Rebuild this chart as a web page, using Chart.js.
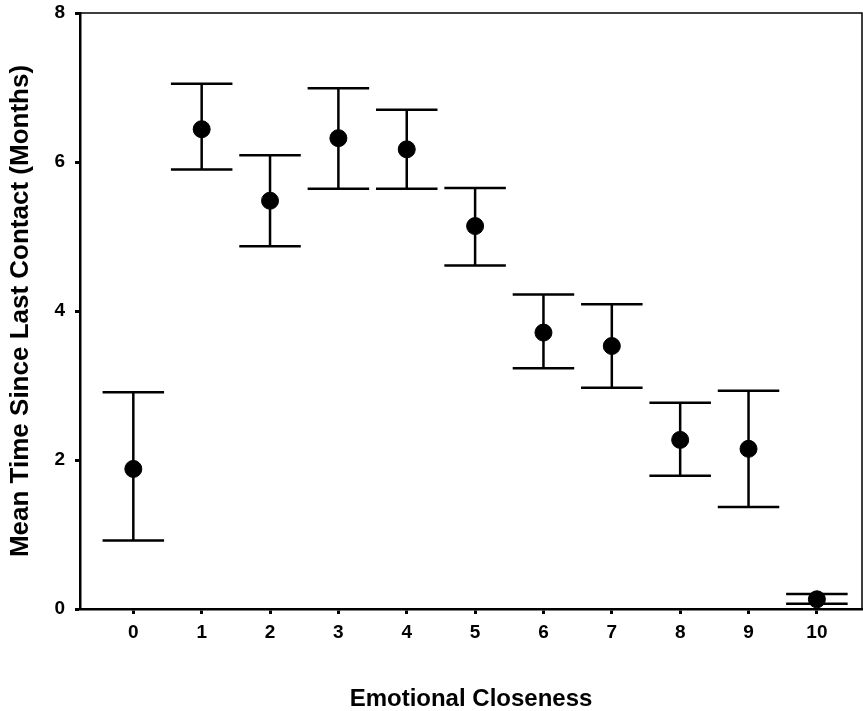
<!DOCTYPE html>
<html>
<head>
<meta charset="utf-8">
<script src="https://cdn.jsdelivr.net/npm/chart.js@4.4.1/dist/chart.umd.min.js"></script>
<style>
    html, body { margin: 0; background: #fff; overflow: hidden; }
    canvas { display: block; }
</style>
</head>
<body>
<canvas id="ClosenessChart" width="863" height="711"></canvas>
<script>
// values
const categories = [0, 1, 2, 3, 4, 5, 6, 7, 8, 9, 10];
const means = [1.88, 6.44, 5.48, 6.32, 6.17, 5.14, 3.71, 3.53, 2.27, 2.15, 0.13];
const upper = [2.91, 7.05, 6.09, 6.99, 6.70, 5.65, 4.22, 4.09, 2.77, 2.93, 0.20];
const lower = [0.92, 5.90, 4.87, 5.64, 5.64, 4.61, 3.23, 2.97, 1.79, 1.37, 0.07];
const yTicks = [0, 2, 4, 6, 8];

const FONT = 'Liberation Sans, Arial, sans-serif';
const CAP = 0.45; // half width of the error bar caps, in x units

const errorBars = {
    id: 'errorBars',
    beforeDatasetsDraw(chart) {
        const c = chart.ctx;
        const x = chart.scales.x;
        const y = chart.scales.y;
        const area = chart.chartArea;
        c.save();
        c.strokeStyle = '#000';

        // top and right frame
        c.lineWidth = 1.5;
        c.beginPath();
        c.moveTo(area.left, area.top);
        c.lineTo(area.right, area.top);
        c.lineTo(area.right, area.bottom);
        c.stroke();

        c.lineWidth = 2.5;
        categories.forEach(function (cat, i) {
            const px = x.getPixelForValue(cat);
            const l = x.getPixelForValue(cat - CAP);
            const r = x.getPixelForValue(cat + CAP);
            const top = y.getPixelForValue(upper[i]);
            const bot = y.getPixelForValue(lower[i]);
            c.beginPath();
            c.moveTo(px, top);
            c.lineTo(px, bot);
            c.moveTo(l, top);
            c.lineTo(r, top);
            c.moveTo(l, bot);
            c.lineTo(r, bot);
            c.stroke();
        });
        c.restore();
    }
};

new Chart(document.getElementById('ClosenessChart'), {
    type: 'scatter',
    data: {
        datasets: [{
            label: 'Mean',
            data: categories.map((c, i) => ({x: c, y: means[i]})),
            backgroundColor: '#000',
            borderColor: '#000',
            pointRadius: 8.5,
            pointHoverRadius: 8.5,
        }]
    },
    options: {
        responsive: false,
        animation: false,
        layout: { autoPadding: false, padding: { top: 13, right: 1, left: 0, bottom: 0 } },
        plugins: {
            legend: { display: false },
            tooltip: { enabled: false }
        },
        scales: {
            x: {
                type: 'linear',
                min: -0.78,
                max: 10.66,
                afterFit(scale) {
                    scale.height = 102;
                    scale.paddingLeft = 0;
                    scale.paddingRight = 0;
                },
                afterBuildTicks(scale) { scale.ticks = categories.map(v => ({value: v})); },
                border: { display: true, color: '#000', width: 2.5 },
                grid: { drawOnChartArea: false, drawTicks: true, tickLength: 5, tickColor: '#000', tickWidth: 3 },
                ticks: {
                    color: '#000',
                    padding: 7,
                    maxRotation: 0,
                    font: { family: FONT, size: 19, weight: 'bold' }
                },
                title: {
                    display: true,
                    text: 'Emotional Closeness',
                    color: '#000',
                    padding: { top: 0, bottom: 0 },
                    font: { family: FONT, size: 24, weight: 'bold', lineHeight: 1 }
                }
            },
            y: {
                min: 0,
                max: 8,
                afterFit(scale) {
                    scale.width = 80;
                    scale.paddingTop = 0;
                    scale.paddingBottom = 0;
                },
                afterBuildTicks(scale) { scale.ticks = yTicks.map(v => ({value: v})); },
                border: { display: true, color: '#000', width: 2.5 },
                grid: { drawOnChartArea: false, drawTicks: true, tickLength: 5, tickColor: '#000', tickWidth: 3 },
                ticks: {
                    color: '#000',
                    padding: 10,
                    font: { family: FONT, size: 19, weight: 'bold' }
                },
                title: {
                    display: true,
                    text: 'Mean Time Since Last Contact (Months)',
                    color: '#000',
                    padding: { top: 5, bottom: 0 },
                    font: { family: FONT, size: 26, weight: 'bold' }
                }
            }
        }
    },
    plugins: [errorBars]
});
</script>
</body>
</html>
